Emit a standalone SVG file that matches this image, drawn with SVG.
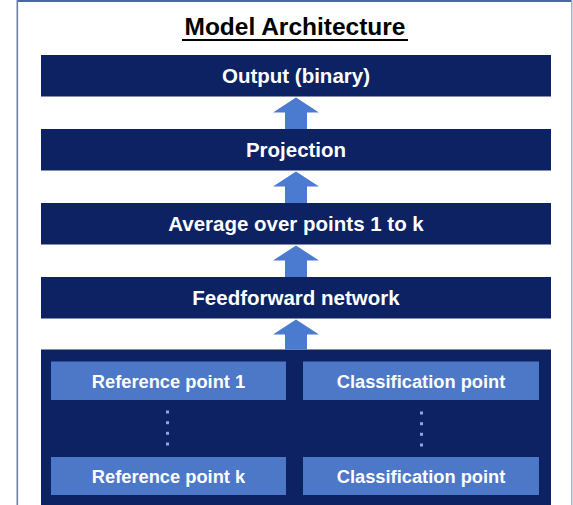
<svg xmlns="http://www.w3.org/2000/svg" width="573" height="505" viewBox="0 0 573 505">
  <style>
    .bar { fill: #0c2262; }
    .inner { fill: #4d77c7; }
    .lbl { font-family: "Liberation Sans", Arial, sans-serif; font-weight: bold; fill: #ffffff; text-anchor: middle; }
    .big { font-size: 20.5px; }
    .small { font-size: 18.3px; }
    .arrow { fill: #4a7bd0; }
    .dot { fill: #8ea6d8; }
  </style>
  <rect x="0" y="0" width="573" height="505" fill="#ffffff"/>
  <g id="frame">
    <line x1="17" y1="1" x2="572" y2="1" stroke="#4a68a6" stroke-width="2"/>
    <line x1="17.3" y1="0" x2="17.3" y2="505" stroke="#6f7fa0" stroke-width="1.6"/>
    <line x1="571.8" y1="0" x2="571.8" y2="505" stroke="#a0abc2" stroke-width="1.4"/>
  </g>
  <g id="title">
    <text x="295" y="35" font-family="'Liberation Sans', Arial, sans-serif" font-weight="bold" font-size="24.5" fill="#000000" text-anchor="middle">Model Architecture</text>
    <line x1="182" y1="40" x2="408" y2="40" stroke="#000000" stroke-width="2"/>
  </g>
  <g id="output">
    <rect class="bar" x="41" y="55" width="510" height="41.5"/>
    <text class="lbl big" x="296" y="83">Output (binary)</text>
  </g>
  <g id="projection">
    <rect class="bar" x="41" y="129" width="510" height="41.5"/>
    <text class="lbl big" x="296" y="157">Projection</text>
  </g>
  <g id="average">
    <rect class="bar" x="41" y="203" width="510" height="41.5"/>
    <text class="lbl big" x="296" y="231">Average over points 1 to k</text>
  </g>
  <g id="feedforward">
    <rect class="bar" x="41" y="277" width="510" height="41.5"/>
    <text class="lbl big" x="296" y="305">Feedforward network</text>
  </g>
  <g id="inputs">
    <rect class="bar" x="41" y="349.5" width="510" height="160"/>
  </g>
  <g id="ref1">
    <rect class="inner" x="51" y="361.5" width="235" height="38.5"/>
    <text class="lbl small" x="168.5" y="387.5">Reference point 1</text>
  </g>
  <g id="cls1">
    <rect class="inner" x="303" y="361.5" width="236" height="38.5"/>
    <text class="lbl small" x="421" y="387.5">Classification point</text>
  </g>
  <g id="refk">
    <rect class="inner" x="51" y="457" width="235" height="38"/>
    <text class="lbl small" x="168.5" y="483">Reference point k</text>
  </g>
  <g id="clsk">
    <rect class="inner" x="303" y="457" width="236" height="38"/>
    <text class="lbl small" x="421" y="483">Classification point</text>
  </g>
  <g id="dots">
    <rect class="dot" x="166" y="410.5" width="3" height="3"/>
    <rect class="dot" x="166" y="421.2" width="3" height="3"/>
    <rect class="dot" x="166" y="431.8" width="3" height="3"/>
    <rect class="dot" x="166" y="442.5" width="3" height="3"/>
    <rect class="dot" x="420" y="411.5" width="3" height="3"/>
    <rect class="dot" x="420" y="422.2" width="3" height="3"/>
    <rect class="dot" x="420" y="432.8" width="3" height="3"/>
    <rect class="dot" x="420" y="443.5" width="3" height="3"/>
  </g>
  <g id="connectors">
    <polygon class="arrow" points="296,97.5 319,112.5 307,112.5 307,129 285,129 285,112.5 273,112.5"/>
    <polygon class="arrow" points="296,171.5 319,186.5 307,186.5 307,203 285,203 285,186.5 273,186.5"/>
    <polygon class="arrow" points="296,245.5 319,260.5 307,260.5 307,277 285,277 285,260.5 273,260.5"/>
    <polygon class="arrow" points="296,319.5 319,334.5 307,334.5 307,349.5 285,349.5 285,334.5 273,334.5"/>
  </g>
</svg>
